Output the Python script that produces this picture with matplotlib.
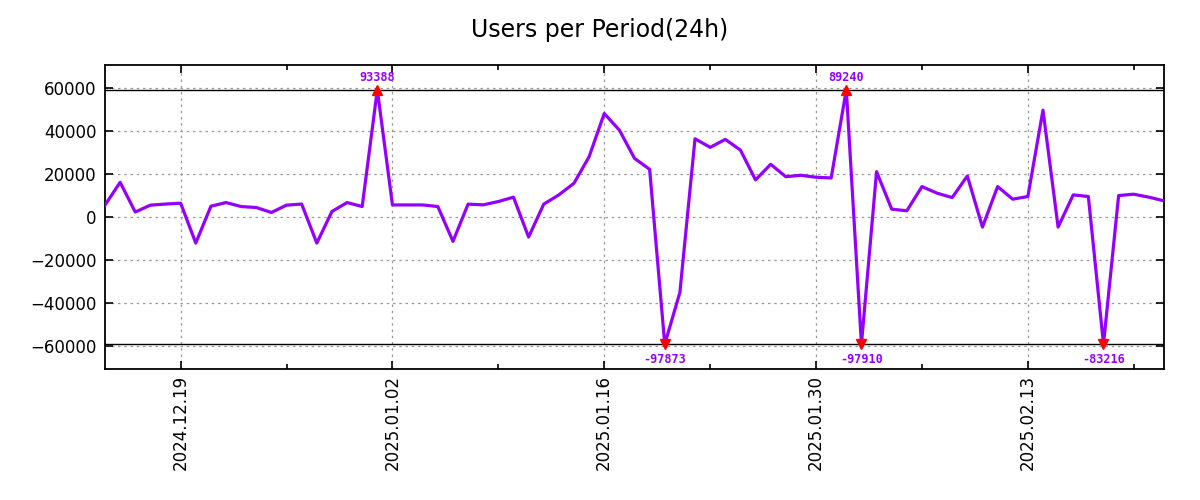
import numpy as np
import pandas as pd
import matplotlib
matplotlib.use("Agg")
import matplotlib.pyplot as plt
import matplotlib.dates as mdates
from matplotlib.ticker import FixedLocator

start_date = "2024-12-14"
values = [5500, 16100, 2300, 5500, 6000, 6400, -12100, 5000, 6700, 4850,
          4400, 2100, 5500, 6000, -12100, 2550, 6700, 4850, 93388, 5600,
          5600, 5600, 4850, -11300, 5960, 5640, 7170, 9200, -9300, 5960,
          10260, 15670, 27970, 48000, 40300, 27200, 22100, -97873, -35000, 36300,
          32300, 36000, 31060, 17200, 24450, 18700, 19360, 18440, 18100, 89240,
          -97910, 21030, 3650, 2870, 14100, 11050, 9010, 19040, -4670, 14100,
          8270, 9500, 49550, -4670, 10260, 9500, -83216, 9950, 10570, 9200,
          7490]
dates = pd.date_range(start_date, periods=len(values), freq="D")
major_tick_dates = ["2024-12-19", "2025-01-02", "2025-01-16", "2025-01-30", "2025-02-13"]
minor_tick_dates = ["2024-12-26", "2025-01-09", "2025-01-23", "2025-02-06", "2025-02-20"]
title = "Users per Period(24h)"
clip_level = 59000
y_ticks = [-60000, -40000, -20000, 0, 20000, 40000, 60000]

vals = np.array(values, dtype=float)
clipped = np.clip(vals, -clip_level, clip_level)

fig = plt.figure(figsize=(12, 5), dpi=100)
ax = fig.add_axes([0.0875, 0.262, 0.8825, 0.608])

line_color = "#9400FF"
ax.plot(dates, clipped, color=line_color, lw=2.3, zorder=3)

ax.axhline(clip_level, color="black", lw=1.0, zorder=2)
ax.axhline(-clip_level, color="black", lw=1.0, zorder=2)

for d, v, c in zip(dates, vals, clipped):
    if v > clip_level:
        ax.plot([d], [c], marker="^", color="red", ms=7, zorder=4, mec="red")
        ax.annotate(f"{int(v)}", (d, c), xytext=(0, 4.5), textcoords="offset points",
                    ha="center", va="bottom", color=line_color, fontsize=8.5,
                    family="DejaVu Sans Mono", fontweight="bold")
    elif v < -clip_level:
        ax.plot([d], [c], marker="v", color="red", ms=7, zorder=4, mec="red")
        ax.annotate(f"{int(v)}", (d, c), xytext=(0, -6), textcoords="offset points",
                    ha="center", va="top", color=line_color, fontsize=8.5,
                    family="DejaVu Sans Mono", fontweight="bold")

ax.set_xlim(dates[0], dates[-1])
ax.set_ylim(-70500, 70500)
ax.set_yticks(y_ticks)

ax.xaxis.set_major_locator(FixedLocator(mdates.date2num(pd.to_datetime(major_tick_dates))))
ax.xaxis.set_minor_locator(FixedLocator(mdates.date2num(pd.to_datetime(minor_tick_dates))))
ax.xaxis.set_major_formatter(mdates.DateFormatter("%Y.%m.%d"))
for lbl in ax.get_xticklabels():
    lbl.set_rotation(90)

ax.tick_params(axis="both", which="both", direction="in", top=True, right=True,
               labelsize=12, colors="black")
ax.tick_params(axis="both", which="major", length=6, width=1.2)
ax.tick_params(axis="x", which="minor", length=3.5, width=1.2)
ax.tick_params(axis="x", which="major", pad=4)
ax.tick_params(axis="y", which="major", pad=6)

ax.grid(True, which="major", linestyle=(0, (2, 3)), color="#999999", lw=0.9)
for s in ax.spines.values():
    s.set_linewidth(1.3)
    s.set_color("black")

fig.suptitle(title, fontsize=17, y=0.965)
fig.savefig("out.png", dpi=100)
